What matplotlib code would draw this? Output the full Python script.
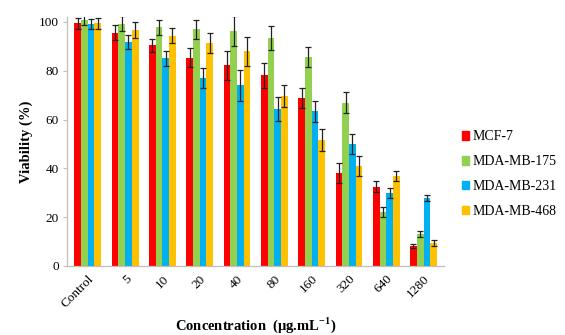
import numpy as np
import matplotlib.pyplot as plt
from matplotlib.patches import Patch

plt.rcParams['font.family'] = ['Liberation Serif', 'DejaVu Serif']
plt.rcParams['mathtext.fontset'] = 'custom'
plt.rcParams['mathtext.rm'] = 'Liberation Serif'
plt.rcParams['mathtext.bf'] = 'Liberation Serif:bold'

categories = ['Control', '5', '10', '20', '40', '80', '160', '320', '640', '1280']
series = ['MCF-7', 'MDA-MB-175', 'MDA-MB-231', 'MDA-MB-468']
colors = ['#FF0000', '#92D050', '#00B0F0', '#FFC000']

mcf7 = [99.5, 95.6, 90.4, 85.4, 82.2, 78.1, 68.9, 38.2, 32.5, 8.2]
mb175 = [100.7, 99.3, 97.8, 97.0, 96.2, 93.4, 85.7, 66.9, 22.1, 13.2]
mb231 = [99.2, 91.8, 85.1, 76.9, 74.0, 64.3, 63.4, 49.9, 30.0, 27.7]
mb468 = [99.5, 96.7, 94.4, 91.4, 88.0, 69.7, 51.6, 41.0, 37.0, 9.3]

mcf7_err = [2.3, 3.0, 2.7, 4.0, 6.0, 5.2, 4.1, 4.2, 2.2, 1.0]
mb175_err = [2.0, 3.2, 3.1, 4.0, 6.1, 5.0, 4.2, 4.2, 2.2, 1.2]
mb231_err = [2.0, 3.0, 3.1, 4.1, 6.3, 4.8, 4.2, 4.1, 2.0, 1.2]
mb468_err = [2.3, 3.2, 3.0, 4.0, 6.0, 4.5, 4.4, 4.0, 2.0, 1.2]

values = [mcf7, mb175, mb231, mb468]
errors = [mcf7_err, mb175_err, mb231_err, mb468_err]

fig = plt.figure(figsize=(5.65, 3.35), dpi=100)
ax = fig.add_axes([0.119, 0.206, 0.667, 0.743])

x = np.arange(len(categories))
w = 0.18
for i, (vals, errs, c) in enumerate(zip(values, errors, colors)):
    pos = x + (i - 1.5) * w
    ax.bar(pos, vals, width=w, color=c, zorder=2)
    ax.errorbar(pos, vals, yerr=errs, fmt='none', ecolor='#222222',
                elinewidth=0.9, capsize=2.5, capthick=0.9, zorder=3)

ax.set_xlim(-0.55, len(categories) - 0.45)
ax.set_ylim(0, 102)
ax.set_yticks([0, 20, 40, 60, 80, 100])
ax.set_xticks(x)
ax.set_xticklabels(categories, rotation=45, ha='right', rotation_mode='anchor')
ax.tick_params(axis='x', length=0, labelsize=9.5, pad=5)
ax.tick_params(axis='y', length=3, color='#BFBFBF', labelsize=9.5, pad=3)

for s in ['top', 'right']:
    ax.spines[s].set_visible(False)
for s in ['left', 'bottom']:
    ax.spines[s].set_color('#BFBFBF')
    ax.spines[s].set_linewidth(0.9)

ax.set_ylabel('Viability (%)', fontweight='bold', fontsize=10.5, labelpad=4)
fig.text(0.452, 0.028, r'Concentration  (μg.mL$^{\mathbf{-1}}$)', fontweight='bold',
         fontsize=10.5, ha='center', va='center')

handles = [Patch(color=c, label=s) for s, c in zip(series, colors)]
fig.legend(handles=handles, loc='center left', bbox_to_anchor=(0.795, 0.48),
           frameon=False, fontsize=10, handlelength=0.55, handleheight=0.55,
           handletextpad=0.25, labelspacing=0.85)

fig.savefig('out.png', dpi=100)
